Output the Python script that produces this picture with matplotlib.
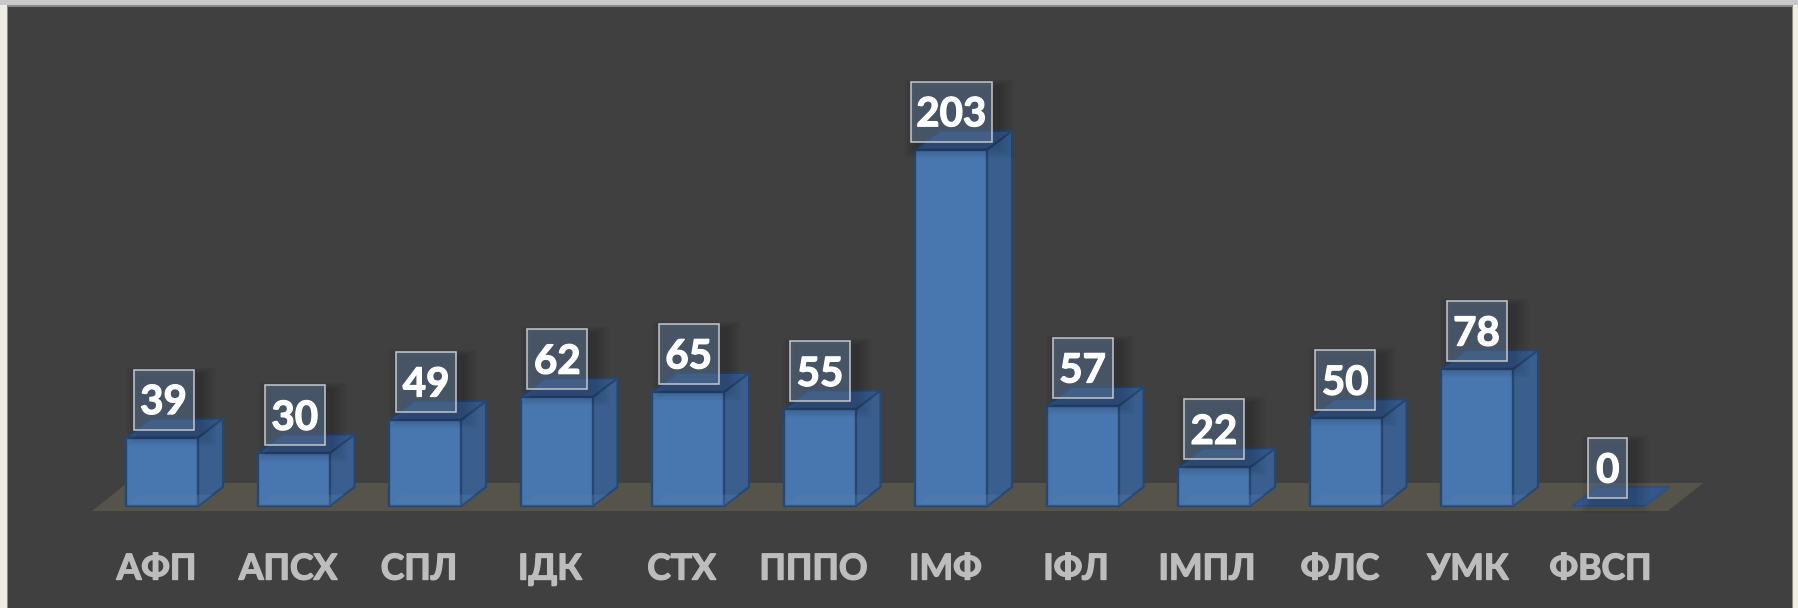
import matplotlib
matplotlib.use("Agg")
import matplotlib.pyplot as plt
from matplotlib.patches import Rectangle, Polygon
import matplotlib.patheffects as pe

categories = ["АФП", "АПСХ", "СПЛ", "ІДК", "СТХ", "ПППО", "ІМФ", "ІФЛ", "ІМПЛ", "ФЛС", "УМК", "ФВСП"]
values = [39, 30, 49, 62, 65, 55, 203, 57, 22, 50, 78, 0]
label_shift_px = [-5.5, -5.5, -6, -6.5, -6.5, -6, -5.6, -6.5, -7, -5.5, -9, -8]

W, H = 1799, 608
PX_X = 131.5      # pixels per category
PX_Y = 1.755      # pixels per value unit
X0, Y0 = 162, 506 # pixel position of first bar centre / zero line

plt.rcParams["font.family"] = ["Lato", "Open Sans", "DejaVu Sans"]
fig = plt.figure(figsize=(W / 100, H / 100), dpi=100, facecolor="#EFEDE2")

# page frame
fig.add_artist(Rectangle((0, 1 - 5 / H), 1, 5 / H, transform=fig.transFigure, color="#C8C8C8", lw=0, zorder=-3))
fig.add_artist(Rectangle((7 / W, 0), (1793 - 7) / W, (H - 5) / H, transform=fig.transFigure, color="#8A8A88", lw=0, zorder=-2))
fig.add_artist(Rectangle((8.5 / W, 0), (1792 - 8.5) / W, (H - 7) / H, transform=fig.transFigure, color="#404040", lw=0, zorder=-1))

ax = fig.add_axes([0, 0, 1, 1])
ax.set_xlim(-X0 / PX_X, (W - X0) / PX_X)
ax.set_ylim(-(H - Y0) / PX_Y, Y0 / PX_Y)
ax.axis("off")

px = 1 / PX_X
py = 1 / PX_Y
bw = 72 * px
dx = 25 * px
dy = 19 * py

# floor
fl = -5 * py
ax.add_patch(Polygon([(-70 * px, fl), (1506 * px, fl), (1541 * px, 23 * py), (-35 * px, 23 * py)],
                     closed=True, fc="#55534A", ec="none", zorder=1))

edge = "#264770"
for i, v in enumerate(values):
    l, r = i - bw / 2, i + bw / 2
    if v > 0:
        ax.add_patch(Polygon([(r, 0), (r + dx, dy), (r + dx, v + dy), (r, v)], closed=True,
                             fc="#3A5E8D", ec=edge, lw=1.5, zorder=3, joinstyle="round"))
    ax.add_patch(Polygon([(l, v), (r, v), (r + dx, v + dy), (l + dx, v + dy)], closed=True,
                         fc="#33578A", ec=edge if v > 0 else "#2F5080", lw=1.5, zorder=3, joinstyle="round"))
    if v > 0:
        ax.bar(i, v, width=bw, color="#4876AE", edgecolor=edge, linewidth=1.7, zorder=4)
        # faint floor seen through the front face
        ax.add_patch(Polygon([(l, 0), (r, 0), (r + 0.6 * dx, 0.6 * dy), (l + 0.6 * dx, 0.6 * dy)], closed=True,
                             fc="#5A83B5", alpha=0.28, ec="none", zorder=5))

# value labels
for i, v in enumerate(values):
    w = {1: 39, 2: 60, 3: 81}[len(str(v))] * px
    h = 60 * py
    cx = i + (1.5 - 0.2 * i) * px
    xl = cx - w / 2
    yb = v + 8 * py
    for g in range(1, 9):
        ax.add_patch(Rectangle((xl + 6 * px - g * 1.6 * px, yb - 5 * py - g * 1.4 * py),
                               w + g * 3.6 * px, h + g * 2.4 * py,
                               fc="#000000", alpha=0.02, ec="none", zorder=6))
    ax.add_patch(Rectangle((xl, yb), w, h, fc="#5C7899", alpha=0.5, ec="none", zorder=7))
    ax.add_patch(Rectangle((xl, yb), w, h, fc="none", ec="#BFC3C9", lw=1.15, zorder=7))
    t = ax.text(cx, yb + h / 2 - 3 * py, str(v), ha="center", va="center", color="white",
                fontsize=29, fontweight="bold", zorder=8)
    t.set_path_effects([pe.withStroke(linewidth=0.9, foreground="white")])

# category labels
for i, c in enumerate(categories):
    t = ax.text(i + label_shift_px[i] * px, -63 * py, c, ha="center", va="center", color="#BDBDBD",
                fontsize=25.6, fontweight="bold", zorder=8)
    t.set_path_effects([pe.withStroke(linewidth=1.0, foreground="#BDBDBD")])

fig.savefig("out.png", dpi=100, facecolor=fig.get_facecolor())
